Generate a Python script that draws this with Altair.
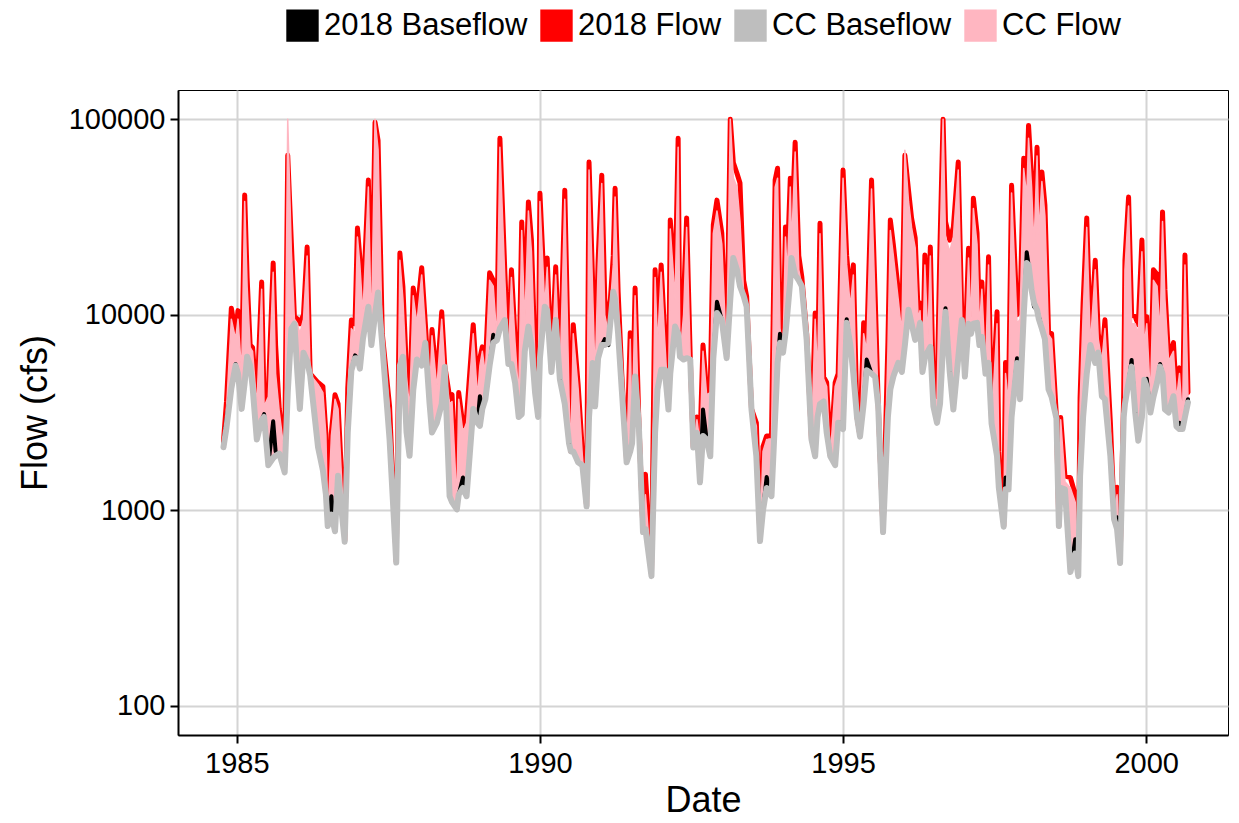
import altair as alt
import pandas as pd

# ---- data (decimal year, cfs) ----
years = [
    1984.78, 1984.83, 1984.91, 1984.98, 1985.02, 1985.08, 1985.13, 1985.17, 1985.22, 1985.26,
    1985.33, 1985.41, 1985.45, 1985.52, 1985.60, 1985.64, 1985.70, 1985.79, 1985.84, 1985.90,
    1985.95, 1986.00, 1986.04, 1986.10, 1986.16, 1986.21, 1986.34, 1986.42, 1986.47, 1986.50,
    1986.56, 1986.62, 1986.67, 1986.78, 1986.83, 1986.89, 1986.95, 1986.99, 1987.03, 1987.08,
    1987.17, 1987.22, 1987.28, 1987.33, 1987.40, 1987.52, 1987.63, 1987.69, 1987.74, 1987.80,
    1987.85, 1987.91, 1987.97, 1988.05, 1988.11, 1988.18, 1988.22, 1988.30, 1988.38, 1988.43,
    1988.51, 1988.55, 1988.63, 1988.66, 1988.73, 1988.79, 1988.90, 1988.97, 1989.01, 1989.05,
    1989.10, 1989.17, 1989.23, 1989.29, 1989.34, 1989.42, 1989.48, 1989.53, 1989.59, 1989.65,
    1989.70, 1989.75, 1989.81, 1989.86, 1989.92, 1989.97, 1990.00, 1990.08, 1990.12, 1990.19,
    1990.26, 1990.33, 1990.41, 1990.48, 1990.51, 1990.55, 1990.63, 1990.70, 1990.77, 1990.81,
    1990.87, 1990.91, 1990.96, 1991.02, 1991.07, 1991.13, 1991.21, 1991.24, 1991.29, 1991.35,
    1991.43, 1991.49, 1991.52, 1991.57, 1991.63, 1991.70, 1991.74, 1991.84, 1991.90, 1991.94,
    1992.00, 1992.06, 1992.12, 1992.15, 1992.23, 1992.28, 1992.31, 1992.37, 1992.42, 1992.48,
    1992.53, 1992.59, 1992.64, 1992.69, 1992.75, 1992.81, 1992.86, 1992.92, 1993.00, 1993.08,
    1993.14, 1993.19, 1993.25, 1993.30, 1993.36, 1993.41, 1993.49, 1993.57, 1993.63, 1993.68,
    1993.74, 1993.82, 1993.88, 1993.92, 1993.96, 1994.01, 1994.05, 1994.08, 1994.13, 1994.15,
    1994.21, 1994.27, 1994.32, 1994.40, 1994.48, 1994.54, 1994.58, 1994.62, 1994.68, 1994.73,
    1994.79, 1994.87, 1994.92, 1995.00, 1995.06, 1995.12, 1995.17, 1995.23, 1995.28, 1995.34,
    1995.39, 1995.47, 1995.53, 1995.58, 1995.66, 1995.74, 1995.78, 1995.83, 1995.91, 1995.97,
    1996.02, 1996.08, 1996.13, 1996.19, 1996.24, 1996.27, 1996.31, 1996.35, 1996.40, 1996.44,
    1996.49, 1996.55, 1996.60, 1996.65, 1996.69, 1996.76, 1996.82, 1996.90, 1996.96, 1997.01,
    1997.07, 1997.11, 1997.15, 1997.21, 1997.25, 1997.29, 1997.35, 1997.40, 1997.45, 1997.54,
    1997.57, 1997.65, 1997.68, 1997.73, 1997.78, 1997.87, 1997.92, 1997.98, 1998.03, 1998.06,
    1998.11, 1998.15, 1998.20, 1998.23, 1998.28, 1998.33, 1998.39, 1998.44, 1998.52, 1998.56,
    1998.59, 1998.66, 1998.75, 1998.83, 1998.88, 1998.91, 1998.96, 1999.02, 1999.08, 1999.16,
    1999.21, 1999.27, 1999.32, 1999.41, 1999.47, 1999.52, 1999.57, 1999.63, 1999.65, 1999.71,
    1999.76, 1999.82, 1999.87, 1999.93, 1999.97, 2000.01, 2000.07, 2000.12, 2000.18, 2000.23,
    2000.27, 2000.31, 2000.37, 2000.45, 2000.50, 2000.55, 2000.60, 2000.64, 2000.69,
]

flow_2018 = [
    2250, 3600, 10800, 8000, 10500, 5000, 41000, 15500, 7000, 6800,
    3500, 14700, 3500, 4000, 18400, 7000, 3300, 2000, 65500, 23300,
    9800, 9500, 9000, 10000, 22200, 5000, 4500, 4300, 2450, 850,
    2500, 3900, 3500, 700, 4200, 9400, 9000, 27800, 19500, 11000,
    48900, 9000, 96600, 78000, 8000, 3400, 545, 20700, 13900, 5000,
    3500, 13700, 10000, 17400, 9000, 4000, 8400, 4500, 10350, 5500,
    3800, 3900, 1150, 4000, 2700, 3000, 8900, 4000, 6000, 6850,
    5500, 16400, 15000, 8000, 80000, 17000, 6000, 17000, 7600, 4000,
    29800, 10000, 37800, 24100, 6000, 3200, 41900, 12000, 19500, 5200,
    17600, 4700, 43400, 4000, 2000, 8900, 4400, 2000, 1050, 60400,
    14500, 5000, 19000, 51800, 12000, 8500, 20000, 44400, 13100, 5000,
    1800, 8100, 2500, 13700, 3000, 780, 1530, 470, 17000, 8000,
    18000, 7700, 3500, 30500, 13400, 80000, 6200, 12000, 31300, 6000,
    2100, 3000, 2230, 7000, 4000, 4200, 28800, 38600, 26200, 6100,
    100000, 60000, 53000, 47200, 15000, 12400, 3300, 2800, 700, 2120,
    2400, 2400, 48900, 56200, 9000, 6500, 28100, 18000, 50000, 25000,
    76300, 20000, 15600, 8000, 2300, 10200, 5000, 29400, 4800, 4500,
    1900, 4500, 5000, 55000, 20000, 12400, 18000, 3000, 2400, 9100,
    7000, 48900, 12400, 3500, 780, 7200, 30500, 22800, 13400, 9000,
    65500, 43400, 31300, 24700, 10000, 11500, 5200, 20200, 8000, 22200,
    4000, 3700, 23300, 100000, 30000, 24100, 28100, 60400, 9500, 6000,
    21900, 10000, 39500, 26200, 9000, 14700, 5500, 19800, 2800, 10350,
    2000, 830, 5700, 3700, 46000, 10000, 10600, 63200, 45000, 93100,
    50000, 25000, 72000, 30000, 53700, 36400, 8100, 8000, 3000, 830,
    2980, 1500, 1470, 1200, 470, 3760, 11500, 31300, 7050, 19000,
    8000, 6000, 9420, 2800, 1000, 1310, 540, 4000, 19000, 40000,
    10000, 9770, 8900, 24100, 8000, 9770, 4000, 17000, 16100, 9000,
    33600, 13400, 6000, 7200, 3800, 5350, 3000, 20200, 4000,
]

flow_cc = [
    2200, 3300, 9500, 7500, 9500, 5000, 38000, 14000, 6800, 6500,
    3400, 13500, 3400, 3800, 16500, 5000, 3200, 1900, 100000, 21000,
    9500, 9000, 8000, 9500, 20000, 4950, 4400, 4000, 2400, 850,
    2400, 3700, 3300, 700, 4000, 8500, 8000, 25000, 18000, 10000,
    45000, 8000, 100000, 70000, 7500, 3300, 545, 19000, 12000, 4800,
    3300, 12500, 9000, 16000, 8500, 3800, 7800, 4200, 9500, 5400,
    3500, 3600, 1100, 3700, 2500, 2800, 8000, 3800, 5500, 6500,
    5000, 15000, 14000, 7500, 72000, 15500, 5800, 15500, 7200, 3800,
    27000, 9000, 34000, 21000, 5600, 3100, 38000, 11000, 17500, 5100,
    16000, 4650, 39000, 3800, 2000, 8000, 4200, 1900, 1050, 55000,
    13000, 4800, 17500, 47000, 10000, 8000, 18000, 40000, 12000, 4900,
    1780, 7500, 2400, 12500, 2900, 780, 1200, 470, 15500, 7000,
    16500, 7300, 3400, 27500, 12000, 72000, 6100, 10000, 28000, 5900,
    2100, 2900, 2200, 6500, 3900, 4000, 26000, 34000, 23000, 6000,
    100000, 50000, 45000, 30000, 13000, 11500, 3280, 2700, 700, 2000,
    2300, 2300, 45000, 50000, 8500, 6400, 25000, 16000, 45000, 22000,
    68000, 17000, 14000, 7700, 2300, 9500, 4800, 26000, 4700, 4300,
    1888, 4300, 4800, 50000, 18000, 11000, 16000, 3000, 2380, 8000,
    6500, 44000, 11000, 3400, 780, 6500, 27000, 20000, 12000, 8000,
    69500, 38000, 28000, 22000, 9500, 10500, 5100, 18000, 7500, 20000,
    3800, 3600, 21000, 100000, 25000, 21000, 25000, 55000, 9450, 5900,
    19500, 9000, 35000, 23000, 8500, 13500, 5300, 18000, 2790, 9000,
    1900, 830, 5000, 3500, 42000, 9000, 9500, 56000, 40000, 80000,
    45000, 22000, 65000, 26000, 48000, 32000, 7900, 7500, 2950, 830,
    2900, 1400, 1300, 1100, 470, 3500, 10000, 28000, 7000, 17000,
    7500, 5800, 8500, 2700, 950, 1200, 540, 3800, 17000, 36000,
    9000, 9000, 8000, 21000, 7000, 9000, 3800, 15000, 14000, 8000,
    30000, 12000, 5800, 6500, 3700, 5000, 2900, 18000, 3800,
]

base_2018 = [
    2150, 2900, 4200, 5600, 5000, 3300, 4500, 6100, 5500, 4300,
    2300, 2900, 3100, 1700, 2850, 2000, 1950, 1560, 4000, 8500,
    9000, 5000, 3300, 6400, 5800, 4900, 2100, 1600, 1200, 840,
    1180, 800, 1500, 690, 2500, 5200, 6200, 6000, 5300, 7500,
    11000, 7000, 10000, 13000, 7000, 2300, 540, 5500, 6100, 2500,
    1900, 4100, 5900, 5500, 7200, 3500, 2500, 2800, 3500, 5400,
    1180, 1100, 1010, 1200, 1470, 1180, 3300, 2800, 3830, 3300,
    3700, 5500, 7900, 7400, 8500, 9400, 5600, 5600, 4500, 3000,
    3100, 6500, 8700, 7000, 4000, 3000, 6000, 11000, 10500, 5100,
    9400, 4650, 3500, 2200, 2000, 2000, 1760, 1700, 1047, 3000,
    5670, 3400, 6000, 7000, 7500, 7000, 13100, 12000, 8000, 4150,
    1760, 2000, 2200, 4830, 2800, 773, 800, 460, 2500, 4150,
    5230, 5230, 3275, 5000, 8700, 8000, 6100, 5900, 6000, 5900,
    2094, 2490, 1390, 3280, 2300, 1888, 6000, 11650, 9400, 6000,
    12000, 19500, 17000, 14000, 12500, 11000, 3280, 1888, 695, 1000,
    1480, 1180, 3000, 5670, 8000, 6400, 8000, 10000, 15000, 19500,
    16000, 15000, 14000, 7440, 2300, 1888, 3000, 3500, 3600, 2500,
    1888, 1700, 2800, 2800, 9500, 7000, 5000, 3000, 2380, 3500,
    5900, 5000, 4800, 3400, 773, 3000, 4150, 4830, 5670, 5100,
    7000, 10600, 9000, 7440, 8000, 9100, 5100, 6000, 6500, 6850,
    3400, 2800, 3500, 7000, 10800, 5100, 3275, 6000, 9400, 4830,
    9000, 8000, 9000, 9100, 7000, 7700, 5000, 5670, 2780, 1888,
    1300, 824, 1470, 1280, 3000, 6000, 3700, 10000, 20900, 18000,
    13400, 11000, 10600, 9800, 8500, 7500, 4150, 3800, 2950, 830,
    1300, 1280, 483, 711, 460, 1500, 3000, 5000, 7000, 5670,
    6400, 3830, 3700, 1888, 900, 920, 537, 3000, 3500, 4500,
    5870, 3160, 2270, 3000, 4650, 4700, 3160, 3800, 4500, 5600,
    5000, 3275, 3160, 3830, 2680, 2800, 2600, 3000, 3700,
]

base_cc = [
    2100, 2650, 4200, 5500, 5000, 3300, 4500, 6100, 5500, 4300,
    2300, 2900, 3000, 1700, 1850, 1900, 1950, 1560, 4000, 8500,
    9000, 5000, 3300, 6400, 5800, 4900, 2100, 1600, 1200, 830,
    950, 780, 1500, 690, 2500, 5200, 6000, 6000, 5300, 7500,
    11000, 7000, 10000, 13000, 7000, 2300, 540, 5500, 6100, 2500,
    1900, 4100, 5900, 5500, 7200, 3500, 2500, 2800, 3500, 5400,
    1180, 1100, 1010, 1200, 1300, 1180, 3300, 2800, 2700, 3300,
    3700, 5500, 7200, 7400, 8500, 9400, 5600, 5600, 4500, 3000,
    3100, 6500, 8700, 7000, 4000, 3000, 6000, 11000, 10500, 5100,
    9400, 4650, 3500, 2200, 2000, 2000, 1760, 1700, 1047, 3000,
    5670, 3400, 6000, 7000, 7000, 7200, 13100, 12000, 8000, 4150,
    1760, 2000, 2200, 4830, 2800, 773, 800, 460, 2500, 4150,
    5230, 5230, 3275, 5000, 8700, 8000, 6100, 5900, 6000, 5900,
    2094, 2490, 1390, 2400, 2300, 1888, 6000, 10200, 9400, 6000,
    12000, 19500, 17000, 14000, 12500, 11000, 3280, 1888, 695, 1000,
    1300, 1180, 3000, 5670, 7200, 6400, 8000, 10000, 15000, 19500,
    16000, 15000, 14000, 7440, 2300, 1888, 3000, 3500, 3600, 2500,
    1888, 1700, 2800, 2600, 9100, 7000, 5000, 3000, 2380, 3500,
    5200, 5000, 4800, 3400, 773, 3000, 4150, 4830, 5670, 5100,
    7000, 10600, 9000, 7440, 8000, 9100, 5100, 6000, 6500, 6850,
    3400, 2800, 3500, 7000, 10350, 5100, 3275, 6000, 9400, 4830,
    9000, 8000, 9000, 9100, 7000, 7700, 5000, 5670, 2780, 1888,
    1300, 824, 1280, 1280, 3000, 5670, 3700, 10000, 18400, 18000,
    13400, 11500, 10600, 9500, 8500, 7500, 4150, 3800, 2950, 830,
    1300, 1280, 483, 600, 460, 1500, 3000, 5000, 7000, 5670,
    6400, 3830, 3700, 1888, 900, 800, 537, 3000, 3500, 4500,
    5430, 3160, 2270, 3000, 4650, 4300, 3160, 3800, 4500, 5430,
    5000, 3275, 3160, 3830, 2680, 2600, 2600, 3000, 3560,
]

series_names = ["2018 Baseflow", "2018 Flow", "CC Baseflow", "CC Flow"]
series_colors = ["#000000", "#FF0000", "#BEBEBE", "#FFB6C1"]
x_ticks = [1985, 1990, 1995, 2000]
y_ticks = [100, 1000, 10000, 100000]

df = pd.DataFrame({
    "year": years,
    "flow_2018": flow_2018,
    "flow_cc": flow_cc,
    "base_2018": base_2018,
    "base_cc": base_cc,
})

FONT = "Liberation Sans"

xscale = alt.Scale(domain=[1984.03, 2001.35], nice=False, zero=False)
yscale = alt.Scale(type="log", domain=[70.8, 141254], nice=False)

xaxis = alt.Axis(title="Date", values=x_ticks, format="d", labelPadding=6, titlePadding=5)
yaxis = alt.Axis(title="Flow (cfs)", values=y_ticks, format="d", labelPadding=5, titlePadding=14)

X = alt.X("year:Q", scale=xscale, axis=xaxis)

base = alt.Chart(df)

red = base.mark_line(color="#FF0000", strokeWidth=5, strokeCap="round", strokeJoin="round").encode(
    x=X, y=alt.Y("flow_2018:Q", scale=yscale, axis=yaxis)
)
pink_area = base.mark_area(color="#FFB6C1").encode(
    x=X, y=alt.Y("flow_cc:Q", scale=yscale, axis=yaxis), y2="base_cc:Q"
)
pink_line = base.mark_line(color="#FFB6C1", strokeWidth=1.5, strokeJoin="round").encode(
    x=X, y=alt.Y("flow_cc:Q", scale=yscale, axis=yaxis)
)
black = base.mark_line(color="#000000", strokeWidth=4, strokeCap="round", strokeJoin="round").encode(
    x=X, y=alt.Y("base_2018:Q", scale=yscale, axis=yaxis)
)
gray = base.mark_line(color="#BEBEBE", strokeWidth=6, strokeCap="round", strokeJoin="round").encode(
    x=X, y=alt.Y("base_cc:Q", scale=yscale, axis=yaxis)
)

legend_df = pd.DataFrame({
    "series": series_names,
    "year": [years[0]] * 4,
    "value": [base_cc[0]] * 4,
})
legend_layer = alt.Chart(legend_df).mark_point(shape="square", filled=True, opacity=0).encode(
    x=X,
    y=alt.Y("value:Q", scale=yscale, axis=yaxis),
    color=alt.Color(
        "series:N",
        scale=alt.Scale(domain=series_names, range=series_colors),
        legend=alt.Legend(
            title=None, orient="none", legendX=108, legendY=-81, direction="horizontal",
            symbolType="square", symbolSize=1050, symbolStrokeWidth=0, symbolOpacity=1,
            labelFont=FONT, labelFontSize=31, labelColor="black", labelOffset=5,
            labelLimit=500, columnPadding=12, padding=0,
        ),
    ),
)

chart = alt.layer(red, pink_area, pink_line, black, gray, legend_layer).properties(
    width=1050,
    height=645,
    padding={"left": 170, "top": 82, "right": 3, "bottom": 86},
    autosize=alt.AutoSizeParams(type="none"),
).configure_view(
    stroke="#000000", strokeWidth=1
).configure_axis(
    domainColor="#000000", domainWidth=2,
    tickColor="#000000", tickWidth=2, tickSize=8,
    labelFont=FONT, labelFontSize=29, labelColor="#000000",
    titleFont=FONT, titleFontSize=36, titleFontWeight="normal", titleColor="#000000",
    gridColor="#D4D4D4", gridWidth=2,
)

chart.save("out.html", embed_options={"renderer": "svg", "actions": False})
